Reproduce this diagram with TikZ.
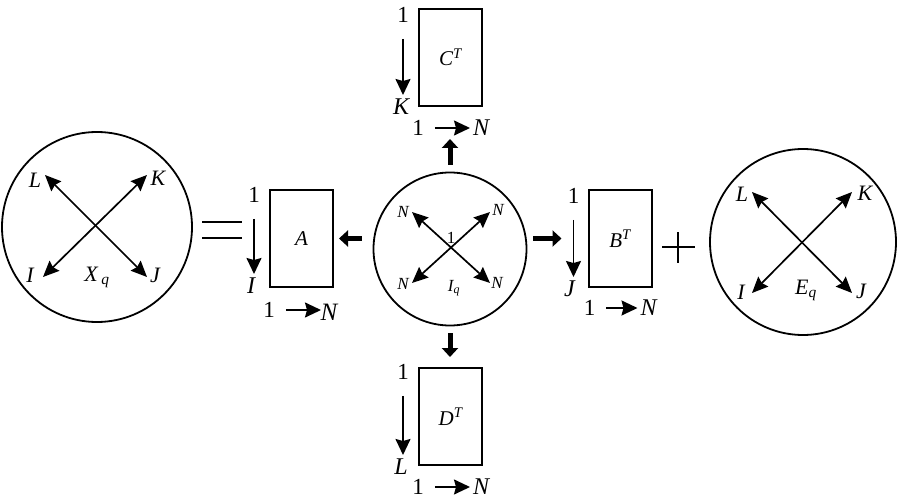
\documentclass[tikz,border=0pt]{standalone}
\usepackage{fontspec}
\setmainfont{Liberation Serif}
\usetikzlibrary{arrows.meta,calc}

\begin{document}
\begin{tikzpicture}[x=1pt,y=-1pt,
	ball/.style={draw,circle,line width=1.8pt,inner sep=0pt},
	mat/.style={draw,line width=2pt,minimum width=63pt,minimum height=97pt,inner sep=0pt,font=\fontsize{21}{21}\selectfont\itshape},
	lab/.style={inner sep=0pt,font=\fontsize{22}{22}\selectfont\itshape},
	idx/.style={inner sep=0pt,font=\fontsize{24}{24}\selectfont\itshape},
	tiny/.style={inner sep=0pt,font=\fontsize{17}{17}\selectfont\itshape},
	num/.style={inner sep=0pt,font=\fontsize{23}{23}\selectfont},
	thin/.style={line width=1.7pt,-{Stealth[length=16pt,width=15pt,inset=2pt]}},
	both/.style={line width=1.7pt,{Stealth[length=16pt,width=14pt,inset=2pt]}-{Stealth[length=16pt,width=14pt,inset=2pt]}},
	fat/.style={line width=5pt,-{Triangle[length=9pt,width=16pt]}},
	sign/.style={line width=2pt}]
	\useasboundingbox (0,0) rectangle (900,500);

	% tensors
	\node[ball,minimum size=190pt] (X) at (97,227) {};
	\node[ball,minimum size=153pt] (Iq) at (450,249) {};
	\node[ball,minimum size=186pt] (E) at (803,242) {};

	% factor matrices
	\node[mat] (A) at (301.5,238.5) {A};
	\node[mat] (C) at (450.5,57.5) {C\textsuperscript{T}};
	\node[mat] (D) at (450.5,416.5) {D\textsuperscript{T}};
	\node[mat] (B) at (620,238.5) {B\textsuperscript{T}};

	% X_q
	\coordinate (XL) at (45,175); \coordinate (XK) at (147,175);
	\coordinate (XI) at (43,277); \coordinate (XJ) at (147,277);
	\draw[both] (XL) -- (XJ);
	\draw[both] (XI) -- (XK);
	\node[lab] (xl) at (35,180) {L};
	\node[lab] (xk) at (158,178) {K};
	\node[lab] (xi) at (30,275) {I};
	\node[lab] (xj) at (155,275) {J};
	\node[lab] (xq) at (97,277) {X\,\textsubscript{q}};

	% I_q
	\coordinate (IL) at (412,212); \coordinate (IK) at (490,212);
	\coordinate (II) at (412,283); \coordinate (IJ) at (490,283);
	\draw[both] (IL) -- (IJ);
	\draw[both] (II) -- (IK);
	\node[tiny] (il) at (403,212) {N};
	\node[tiny] (ik) at (498,210) {N};
	\node[tiny] (ii) at (403,284) {N};
	\node[tiny] (ij) at (497,283) {N};
	\node[tiny,font=\fontsize{17}{17}\selectfont] (i1) at (451,238) {1};
	\node[tiny] (iq) at (454,288) {I\textsubscript{q}};

	% E_q
	\coordinate (EL) at (752,192); \coordinate (EK) at (852,192);
	\coordinate (EI) at (752,293); \coordinate (EJ) at (852,293);
	\draw[both] (EL) -- (EJ);
	\draw[both] (EI) -- (EK);
	\node[lab] (el) at (742,194) {L};
	\node[lab] (ek) at (865,193) {K};
	\node[lab] (ei) at (741,292) {I};
	\node[lab] (ej) at (861,291) {J};
	\node[lab] (eq) at (806,290) {E\textsubscript{q}};

	% index ranges of A
	\node[num] (a1) at ($(A.north west)+(-15,6)$) {1};
	\node[idx] (ai) at ($(A.south west)+(-18,-2)$) {I};
	\node[num] (a2) at ($(A.south west)+(0,22)$) {1};
	\node[idx,font=\fontsize{25}{25}\selectfont\itshape] (an) at ($(A.south west)+(60,24)$) {N};
	\draw[thin,shorten <=16pt,shorten >=12pt] (a1) -- (a1 |- ai);
	\draw[thin,shorten <=11pt,shorten >=8pt] (a2) -- (a2 -| an);

	% index ranges of C^T
	\node[num] (c1) at ($(C.north west)+(-15,7)$) {1};
	\node[idx] (ck) at ($(C.south west)+(-17,0)$) {K};
	\node[num] (c2) at ($(C.south west)+(0,21)$) {1};
	\node[idx] (cn) at ($(C.south west)+(63,21)$) {N};
	\draw[thin,shorten <=16pt,shorten >=12pt] (c1) -- (c1 |- ck);
	\draw[thin,shorten <=11pt,shorten >=11pt] (c2) -- (c2 -| cn);

	% index ranges of D^T
	\node[num] (d1) at ($(D.north west)+(-15,5)$) {1};
	\node[idx] (dl) at ($(D.south west)+(-17,1)$) {L};
	\node[num] (d2) at ($(D.south west)+(0,21)$) {1};
	\node[idx] (dn) at ($(D.south west)+(63,21)$) {N};
	\draw[thin,shorten <=16pt,shorten >=12pt] (d1) -- (d1 |- dl);
	\draw[thin,shorten <=11pt,shorten >=11pt] (d2) -- (d2 -| dn);

	% index ranges of B^T
	\node[num] (b1) at ($(B.north west)+(-14,7)$) {1};
	\node[idx] (bj) at ($(B.south west)+(-18,1)$) {J};
	\node[num] (b2) at ($(B.south west)+(2,20)$) {1};
	\node[idx] (bn) at ($(B.south west)+(61,20)$) {N};
	\draw[thin,shorten <=16pt,shorten >=12pt] (b1) -- (b1 |- bj);
	\draw[thin,shorten <=11pt,shorten >=11pt] (b2) -- (b2 -| bn);

	% core to factors
	\draw[fat,shorten <=11pt,shorten >=5pt] (Iq.west |- A.center) -- (A.east);
	\draw[fat,shorten <=6pt,shorten >=26pt] (Iq.east |- B.center) -- (B.west);
	\draw[fat,shorten <=7pt,shorten >=32pt] (Iq.north) -- (Iq.north |- C.south);
	\draw[fat,shorten <=7pt,shorten >=10pt] (Iq.south) -- (Iq.south |- D.north);

	% = and +
	\draw[sign] (202,222) -- (242,222);
	\draw[sign] (202,238) -- (242,238);
	\draw[sign] (662,247) -- (695,247);
	\draw[sign] (678,232) -- (678,263);
\end{tikzpicture}
\end{document}
